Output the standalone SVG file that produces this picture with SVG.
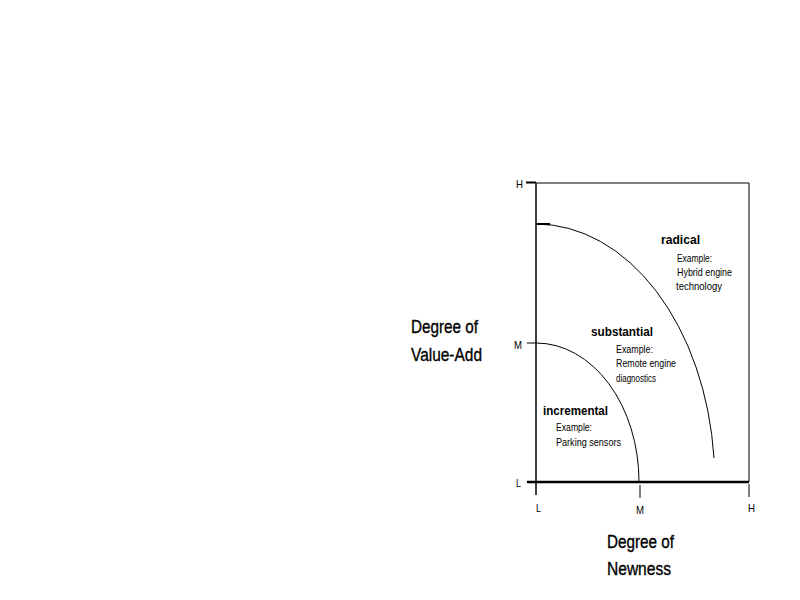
<svg xmlns="http://www.w3.org/2000/svg" width="800" height="600" viewBox="0 0 800 600">
<style>
.ln{stroke:#000;fill:none;stroke-width:1}
.thk{stroke:#000;fill:none;stroke-width:2.5}
text{font-family:"Liberation Sans",Arial,sans-serif;fill:#000}
.ttl{font-size:19px;stroke:#000;stroke-width:0.35}
.cat{font-size:13px;font-weight:bold}
.ex{font-size:11px}
.ax{font-size:11px}
</style>
<rect width="800" height="600" fill="#fff"/>
<g id="frame">
<path class="ln" d="M536,183 H749 V482"/>
<path class="ln" d="M536,183 V495" style="stroke-width:1.5"/>
<path class="thk" d="M527,482 H749"/>
<path class="ln" d="M526,182.5 H536" style="stroke-width:2"/>
<path class="ln" d="M527,343 H536"/>
<path class="ln" d="M640,485 V498"/>
<path class="ln" d="M749,484 V497"/>
</g>
<g id="curves">
<path class="ln" d="M536,343 A103,139 0 0 1 639,482"/>
<path class="ln" d="M536,224 A179,258 0 0 1 714,458"/>
<path class="ln" d="M536,224 H550" style="stroke-width:2"/>
</g>
<g id="axis-labels">
<text class="ax" x="516" y="188" textLength="7" lengthAdjust="spacingAndGlyphs">H</text>
<text class="ax" x="514" y="349" textLength="8" lengthAdjust="spacingAndGlyphs">M</text>
<text class="ax" x="516" y="487" textLength="5" lengthAdjust="spacingAndGlyphs">L</text>
<text class="ax" x="536" y="512" textLength="5" lengthAdjust="spacingAndGlyphs">L</text>
<text class="ax" x="636" y="514" textLength="8" lengthAdjust="spacingAndGlyphs">M</text>
<text class="ax" x="748" y="512" textLength="7" lengthAdjust="spacingAndGlyphs">H</text>
</g>
<g id="y-title">
<text class="ttl" x="411" y="333" textLength="67" lengthAdjust="spacingAndGlyphs">Degree of</text>
<text class="ttl" x="411" y="361" textLength="71" lengthAdjust="spacingAndGlyphs">Value-Add</text>
</g>
<g id="x-title">
<text class="ttl" x="607" y="548" textLength="67" lengthAdjust="spacingAndGlyphs">Degree of</text>
<text class="ttl" x="607" y="575" textLength="64" lengthAdjust="spacingAndGlyphs">Newness</text>
</g>
<g id="radical">
<text class="cat" x="661" y="244" textLength="39" lengthAdjust="spacingAndGlyphs">radical</text>
<text class="ex" x="677" y="262" textLength="35" lengthAdjust="spacingAndGlyphs">Example:</text>
<text class="ex" x="677" y="276" textLength="55" lengthAdjust="spacingAndGlyphs">Hybrid engine</text>
<text class="ex" x="676" y="290" textLength="46" lengthAdjust="spacingAndGlyphs">technology</text>
</g>
<g id="substantial">
<text class="cat" x="591" y="336" textLength="62" lengthAdjust="spacingAndGlyphs">substantial</text>
<text class="ex" x="616" y="353" textLength="37" lengthAdjust="spacingAndGlyphs">Example:</text>
<text class="ex" x="616" y="367" textLength="60" lengthAdjust="spacingAndGlyphs">Remote engine</text>
<text class="ex" x="616" y="382" textLength="40" lengthAdjust="spacingAndGlyphs">diagnostics</text>
</g>
<g id="incremental">
<text class="cat" x="543" y="415" textLength="65" lengthAdjust="spacingAndGlyphs">incremental</text>
<text class="ex" x="556" y="431" textLength="36" lengthAdjust="spacingAndGlyphs">Example:</text>
<text class="ex" x="556" y="446" textLength="65" lengthAdjust="spacingAndGlyphs">Parking sensors</text>
</g>
</svg>
